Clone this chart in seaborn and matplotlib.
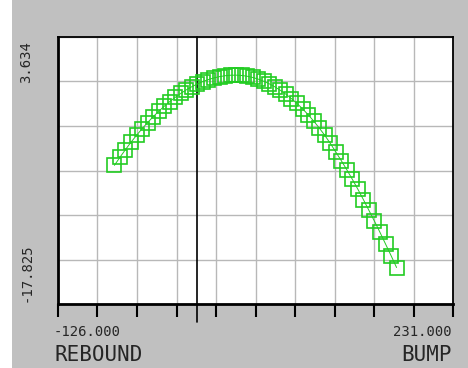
import numpy as np
import matplotlib
matplotlib.use("Agg")
from matplotlib import pyplot as plt
from matplotlib.patches import Rectangle
import seaborn as sns

# wheel travel (mm) and camber values
travel = [-75, -70, -65, -60, -55, -50, -45, -40, -35, -30, -25, -20, -15, -10, -5,
          0, 5, 10, 15, 20, 25, 30, 35, 40, 45, 50, 55, 60, 65, 70, 75, 80, 85, 90,
          95, 100, 105, 110, 115, 120, 125, 130, 135, 140, 145, 150, 155, 160, 165,
          170, 175, 180]
camber = [-6.47, -5.50, -4.57, -3.68, -2.85, -2.06, -1.31, -0.61, 0.04, 0.65, 1.21,
          1.73, 2.20, 2.63, 3.01, 3.34, 3.63, 3.87, 4.07, 4.22, 4.33, 4.39, 4.40,
          4.36, 4.27, 4.12, 3.92, 3.66, 3.35, 2.99, 2.57, 2.10, 1.57, 0.99, 0.35,
          -0.36, -1.12, -1.95, -2.84, -3.80, -4.85, -5.90, -7.00, -8.15, -9.35,
          -10.60, -11.90, -13.20, -14.55, -15.95, -17.35, -18.79]

x_min, x_max = -126.0, 231.0
y_lo_lab, y_hi_lab = -17.825, 3.634
x_labels = ["-126.000", "231.000"]
y_labels = ["3.634", "-17.825"]
end_names = ["REBOUND", "BUMP"]

green = "#22cc22"
mono = ["DejaVu Sans Mono"]

sns.set_style("white")

fig = plt.figure(figsize=(4.68, 3.68), dpi=100)
fig.patch.set_facecolor("#c0c0c0")
fig.patches.append(Rectangle((0, 0), 12 / 468, 1, transform=fig.transFigure,
                             facecolor="white", edgecolor="none", zorder=-1))
ax = fig.add_axes([58 / 468, 64 / 368, 395 / 468, 267 / 368])
ax.set_facecolor("white")

# grid: 10 x intervals, 6 y intervals
step_y = (y_hi_lab - y_lo_lab) / 4
y_min, y_max = y_lo_lab - step_y, y_hi_lab + step_y
ax.set_xlim(x_min, x_max)
ax.set_ylim(y_min, y_max)
ax.set_xticks(np.linspace(x_min, x_max, 11))
ax.set_yticks(np.linspace(y_min, y_max, 7))
ax.set_yticks([y_hi_lab, y_lo_lab], minor=True)
ax.set_xticklabels([])
ax.set_yticklabels([])
ax.grid(True, which="major", color="#b8b8b8", lw=1)
ax.tick_params(axis="x", which="major", direction="out", length=9.5, width=1.5,
               color="black", bottom=True)
ax.tick_params(axis="y", which="major", length=0)
ax.tick_params(axis="y", which="minor", direction="out", length=3.6, width=1,
               color="black", left=True)

for side in ["top", "right"]:
    ax.spines[side].set_color("black")
    ax.spines[side].set_linewidth(1.3)
for side in ["left", "bottom"]:
    ax.spines[side].set_color("black")
    ax.spines[side].set_linewidth(2)

ax.axvline(0, ymin=-0.067, ymax=1, color="black", lw=1.2, clip_on=False, zorder=3)

sns.lineplot(x=travel, y=camber, ax=ax, color=green, lw=0.7, marker="s",
             markersize=10, markerfacecolor="none", markeredgecolor=green,
             markeredgewidth=1.2, zorder=4)

# end labels
ax.text(-0.010, -0.105, x_labels[0], transform=ax.transAxes, ha="left", va="center",
        fontsize=10, family=mono)
ax.text(0.997, -0.105, x_labels[1], transform=ax.transAxes, ha="right", va="center",
        fontsize=10, family=mono)
ax.text(-0.008, -0.19, end_names[0], transform=ax.transAxes, ha="left", va="center",
        fontsize=15, family=mono)
ax.text(0.997, -0.19, end_names[1], transform=ax.transAxes, ha="right", va="center",
        fontsize=15, family=mono)
ax.text(-0.081, 0.908, y_labels[0], transform=ax.transAxes, ha="center", va="center",
        rotation=90, fontsize=10, family=mono)
ax.text(-0.079, 0.116, y_labels[1], transform=ax.transAxes, ha="center", va="center",
        rotation=90, fontsize=10, family=mono)

fig.savefig("out.png", dpi=100, facecolor=fig.get_facecolor())
